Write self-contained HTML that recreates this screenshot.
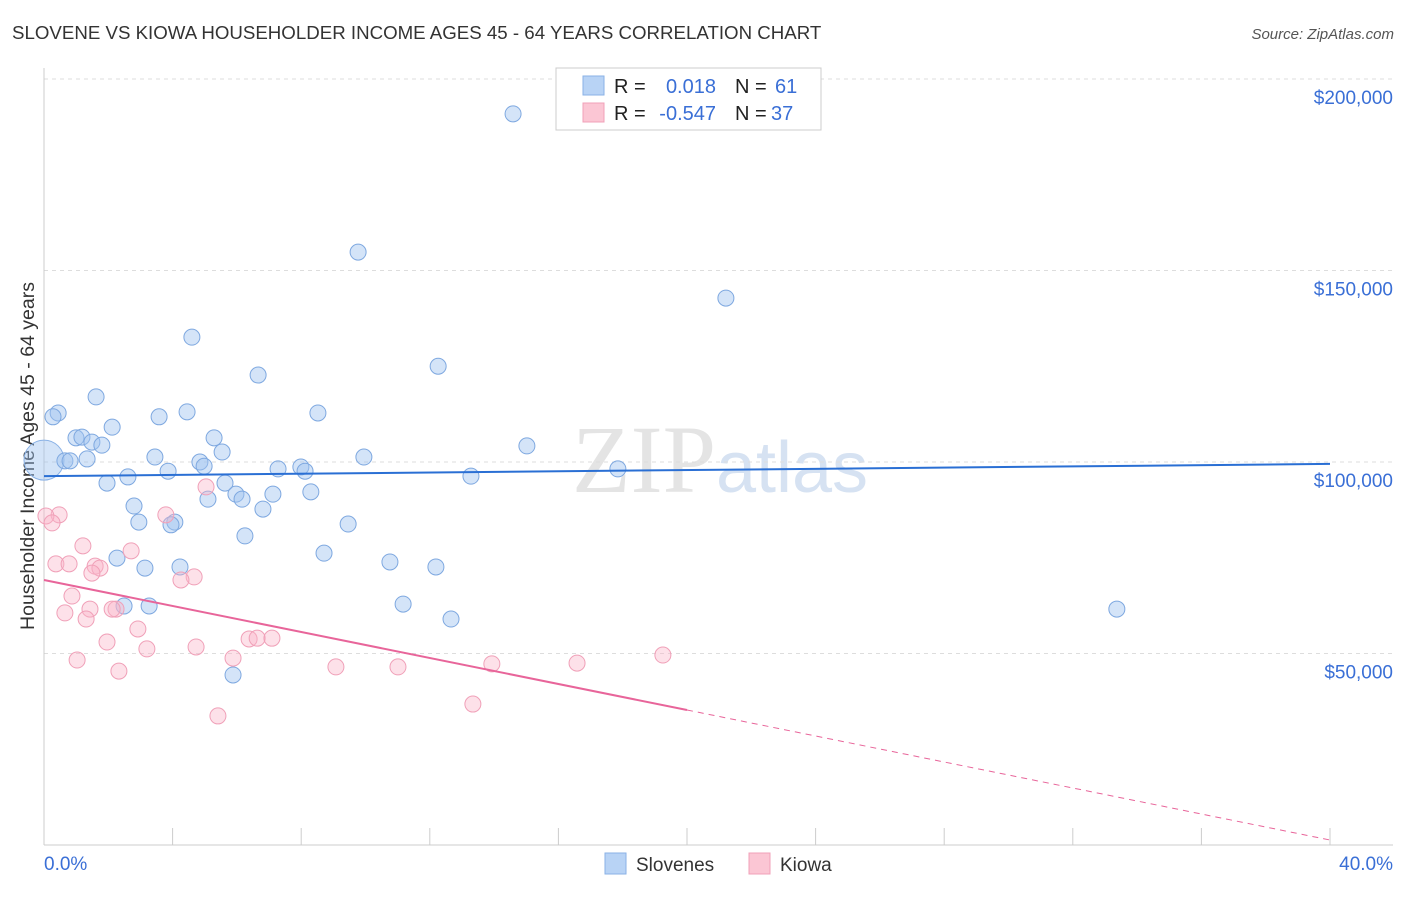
<!DOCTYPE html>
<html><head><meta charset="utf-8"><style>
body{margin:0;background:#fff;font-family:"Liberation Sans",sans-serif;}
</style></head><body>
<svg id="c" width="1406" height="892" xmlns="http://www.w3.org/2000/svg">
<text x="12" y="39" font-size="18.7" fill="#333">SLOVENE VS KIOWA HOUSEHOLDER INCOME AGES 45 - 64 YEARS CORRELATION CHART</text>
<text x="1394" y="39" font-size="15" fill="#555" font-style="italic" text-anchor="end">Source: ZipAtlas.com</text>
<text x="720" y="492" font-size="96" fill="#e4e4e4" text-anchor="middle" font-family="Liberation Serif,serif">ZIP<tspan fill="#d6e2f2" font-family="Liberation Sans,sans-serif" font-size="72">atlas</tspan></text>
<text transform="translate(34,456) rotate(-90)" font-size="19.5" fill="#333" text-anchor="middle">Householder Income Ages 45 - 64 years</text>
<g id="grid"></g><g id="marks"></g>
<g>
<rect x="556" y="68" width="265" height="62" fill="#fff" stroke="#ccc"/>
<rect x="583" y="76" width="21" height="19" fill="#b8d3f5" stroke="#8ab2e6"/>
<rect x="583" y="103" width="21" height="19" fill="#fbc6d4" stroke="#f0a0b8"/>
<text x="614" y="93" font-size="20" fill="#222">R = </text><text x="716" y="93" font-size="20" fill="#3a6fd6" text-anchor="end">0.018</text>
<text x="735" y="93" font-size="20" fill="#222">N = </text><text x="775" y="93" font-size="20" fill="#3a6fd6">61</text>
<text x="614" y="120" font-size="20" fill="#222">R = </text><text x="716" y="120" font-size="20" fill="#3a6fd6" text-anchor="end">-0.547</text>
<text x="735" y="120" font-size="20" fill="#222">N = </text><text x="771" y="120" font-size="20" fill="#3a6fd6">37</text>
</g>
<g>
<rect x="605" y="853" width="21" height="21" fill="#b8d3f5" stroke="#8ab2e6"/>
<text x="636" y="871" font-size="19" fill="#333">Slovenes</text>
<rect x="749" y="853" width="21" height="21" fill="#fbc6d4" stroke="#f0a0b8"/>
<text x="780" y="871" font-size="19" fill="#333">Kiowa</text>
</g>
</svg>
<script>
const blueX=[14.59,9.77,21.21,4.60,12.26,6.66,1.62,0.44,0.28,4.45,3.58,8.52,2.12,0.995,1.18,1.49,1.80,5.29,15.02,5.54,0.65,0.81,1.34,9.95,3.45,4.85,4.98,7.28,7.99,8.12,3.86,2.61,13.28,17.85,1.96,5.63,5.97,6.16,7.12,8.30,5.10,2.80,6.81,2.95,4.07,3.95,9.46,6.25,8.71,2.27,3.14,4.23,10.76,12.19,2.49,3.27,11.17,33.37,12.66,5.88];
const blueY=[190.9,154.8,142.8,132.6,125.0,122.7,117.0,112.8,111.8,113.1,111.8,112.8,109.1,106.3,106.5,105.2,104.4,106.3,104.2,102.6,100.3,100.3,100.8,101.3,101.3,100.0,98.9,98.2,98.7,97.6,97.6,96.1,96.3,98.2,94.5,94.5,91.6,90.3,91.6,92.2,90.3,88.5,87.7,84.3,84.3,83.6,83.8,80.7,76.2,74.9,72.3,72.6,73.9,72.6,62.4,62.4,62.9,61.6,59.0,44.4];
const pinkX=[0.47,0.06,0.25,1.21,2.71,3.79,5.04,0.37,0.78,1.59,1.74,1.49,4.67,4.26,0.87,1.43,0.65,2.24,2.12,1.31,2.92,1.96,6.38,6.63,7.09,3.20,4.73,1.03,5.88,2.33,9.08,11.01,13.93,16.58,19.25,5.41,13.34];
const pinkY=[86.2,85.9,84.1,78.1,76.8,86.2,93.5,73.4,73.4,72.8,72.3,71.0,70.0,69.2,65.0,61.6,60.6,61.6,61.6,59.0,56.4,53.0,53.8,54.0,54.0,51.2,51.7,48.3,48.8,45.4,46.5,46.5,47.3,47.5,49.6,33.7,36.8];
const yTicks=[50,100,150,200];
const yTickLabels=["$50,000","$100,000","$150,000","$200,000"];
const blueTrend=[96.3,99.5];
const pinkTrend=[69.2,1.3];
const X=p=>44+p*32.15, Y=v=>845-v*3.83;
const NS="http://www.w3.org/2000/svg";
function mk(t,a,p){const e=document.createElementNS(NS,t);for(const k in a)e.setAttribute(k,a[k]);p.appendChild(e);return e;}
const g=document.getElementById('grid'),m=document.getElementById('marks');
yTicks.forEach((v,i)=>{
 const l=mk('line',{x1:44,x2:1393,y1:Y(v),y2:Y(v),stroke:'#ddd','stroke-dasharray':'4,4'},g);
 
 
 const t=mk('text',{x:1393,y:Y(v)+25,'font-size':19,fill:'#3a6fd6','text-anchor':'end'},g);t.textContent=yTickLabels[i];
 
 
});
mk('line',{x1:44,x2:44,y1:68,y2:845,stroke:'#ccc'},g);
mk('line',{x1:44,x2:1393,y1:845,y2:845,stroke:'#ccc'},g);
for(let i=1;i<=10;i++){const x=X(i*4);const l=mk('line',{x1:x,x2:x,y1:828,y2:845,stroke:'#ccc'},g);
 
 }
let t=mk('text',{x:44,y:870,'font-size':19,fill:'#3a6fd6'},g);t.textContent='0.0%';


t=mk('text',{x:1393,y:870,'font-size':19,fill:'#3a6fd6','text-anchor':'end'},g);t.textContent='40.0%';


const big=mk('circle',{cx:X(0),cy:Y(100.5),r:20,fill:'rgba(160,195,240,0.45)',stroke:'#8ab2e6'},m);


blueX.forEach((x,i)=>{const c=mk('circle',{cx:X(x),cy:Y(blueY[i]),r:8,fill:'rgba(160,195,240,0.45)',stroke:'#7ea8e0','stroke-width':1},m);
 
 });
pinkX.forEach((x,i)=>{const c=mk('circle',{cx:X(x),cy:Y(pinkY[i]),r:8,fill:'rgba(250,180,200,0.4)',stroke:'#f0a0b8','stroke-width':1},m);
 
 });
const bl=mk('line',{x1:X(0),y1:Y(blueTrend[0]),x2:X(40),y2:Y(blueTrend[1]),stroke:'#2a6fd4','stroke-width':2},m);


const pm=v=>pinkTrend[0]+(pinkTrend[1]-pinkTrend[0])*v/40;
const pl=mk('line',{x1:X(0),y1:Y(pm(0)),x2:X(20),y2:Y(pm(20)),stroke:'#e8659a','stroke-width':2},m);


const pd=mk('line',{x1:X(20),y1:Y(pm(20)),x2:X(40),y2:Y(pm(40)),stroke:'#e8659a','stroke-width':1,'stroke-dasharray':'6,5'},m);


</script>
</body></html>
